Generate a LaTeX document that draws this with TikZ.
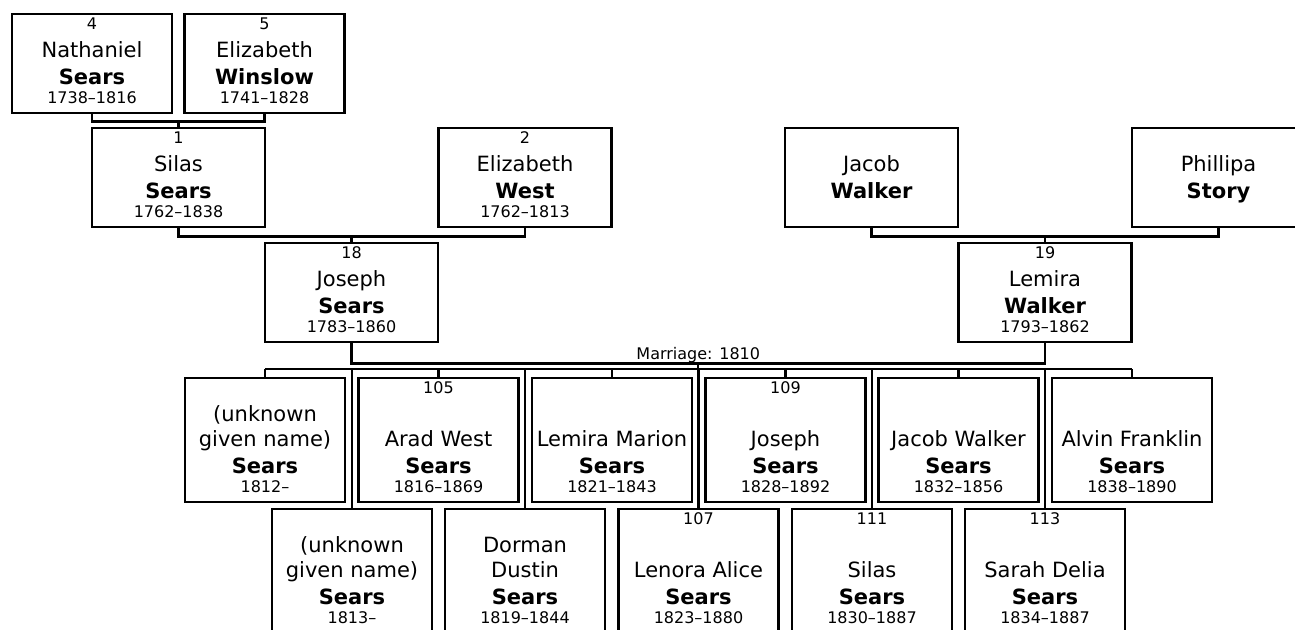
\documentclass[tikz,border=0pt]{standalone}
\usepackage{fontspec}
\setmainfont{DejaVu Sans}
\usetikzlibrary{positioning}

% box with number, given name (two lines), surname and dates
\newcommand{\person}[8][anc]{%
  \node[#1] (#2) at (#3) {};
  \node[small] (#2n) at ([yshift=-16.5pt]#2.north) {#4};
  \node[given] (#2g) at ([yshift=81.5pt]#2.south) {#5};
  \node[given] (#2h) at ([yshift=56.5pt]#2.south) {#6};
  \node[sur] (#2s) at ([yshift=30pt]#2.south) {#7};
  \node[small] (#2d) at ([yshift=10.5pt]#2.south) {#8};
}

\begin{document}
\begin{tikzpicture}[x=1pt, y=-1pt, line width=2.4pt,
  anc/.style={draw, anchor=north, inner sep=0, minimum width=173pt, minimum height=99pt},
  old/.style={anc, minimum width=160pt},
  kid/.style={anc, minimum width=160pt, minimum height=124pt},
  small/.style={anchor=base, inner sep=0, font=\fontsize{16}{19}\selectfont},
  given/.style={anchor=base, inner sep=0, font=\fontsize{21}{25}\selectfont},
  sur/.style={given, font=\fontsize{21}{25}\selectfont\bfseries}]
  \useasboundingbox (0,0) rectangle (1295,629);

  \person[old]{p4}{92,13}{4}{}{Nathaniel}{Sears}{1738--1816}
  \person[old]{p5}{264.5,13}{5}{}{Elizabeth}{Winslow}{1741--1828}
  \person{p1}{178.5,127}{1}{}{Silas}{Sears}{1762--1838}
  \person{p2}{525,127}{2}{}{Elizabeth}{West}{1762--1813}
  \person{pJ}{871.5,127}{}{}{Jacob}{Walker}{}
  \person{pP}{1218.5,127}{}{}{Phillipa}{Story}{}
  \person{p18}{351.5,242}{18}{}{Joseph}{Sears}{1783--1860}
  \person{p19}{1045,242}{19}{}{Lemira}{Walker}{1793--1862}

  % children
  \person[kid]{k1}{265,377}{}{(unknown}{given name)}{Sears}{1812--}
  \person[kid]{k2}{352,508}{}{(unknown}{given name)}{Sears}{1813--}
  \person[kid]{k3}{438.5,377}{105}{}{Arad West}{Sears}{1816--1869}
  \person[kid]{k4}{525,508}{}{Dorman}{Dustin}{Sears}{1819--1844}
  \person[kid]{k5}{612,377}{}{}{Lemira Marion}{Sears}{1821--1843}
  \person[kid]{k6}{698.5,508}{107}{}{Lenora Alice}{Sears}{1823--1880}
  \person[kid]{k7}{785.5,377}{109}{}{Joseph}{Sears}{1828--1892}
  \person[kid]{k8}{872,508}{111}{}{Silas}{Sears}{1830--1887}
  \person[kid]{k9}{958.5,377}{}{}{Jacob Walker}{Sears}{1832--1856}
  \person[kid]{k10}{1045,508}{113}{}{Sarah Delia}{Sears}{1834--1887}
  \person[kid]{k11}{1132,377}{}{}{Alvin Franklin}{Sears}{1838--1890}

  \draw (p4.south) -- ++(0,7) coordinate (m4) -| (p5.south);
  \draw (m4 -| p1.north) -- (p1.north);
  \draw (p1.south) -- ++(0,8) coordinate (m1) -| (p2.south);
  \draw (m1 -| p18.north) -- (p18.north);
  \draw (pJ.south) -- ++(0,8) coordinate (mJ) -| (pP.south);
  \draw (mJ -| p19.north) -- (p19.north);
  \draw (p18.south) -- ++(0,20) coordinate (m18)
    -- coordinate (mm) node[small, yshift=4pt] (mar) {Marriage: 1810} (m18 -| p19.south)
    -- (p19.south);

  \coordinate (bus) at (0,369);
  \draw (mm) -- (mm |- bus);
  \draw (bus -| k1.north) -- (bus -| k11.north);
  \foreach \k in {k1,k2,k3,k4,k5,k6,k7,k8,k9,k10,k11}
    \draw (bus -| \k.north) -- (\k.north);
\end{tikzpicture}
\end{document}
